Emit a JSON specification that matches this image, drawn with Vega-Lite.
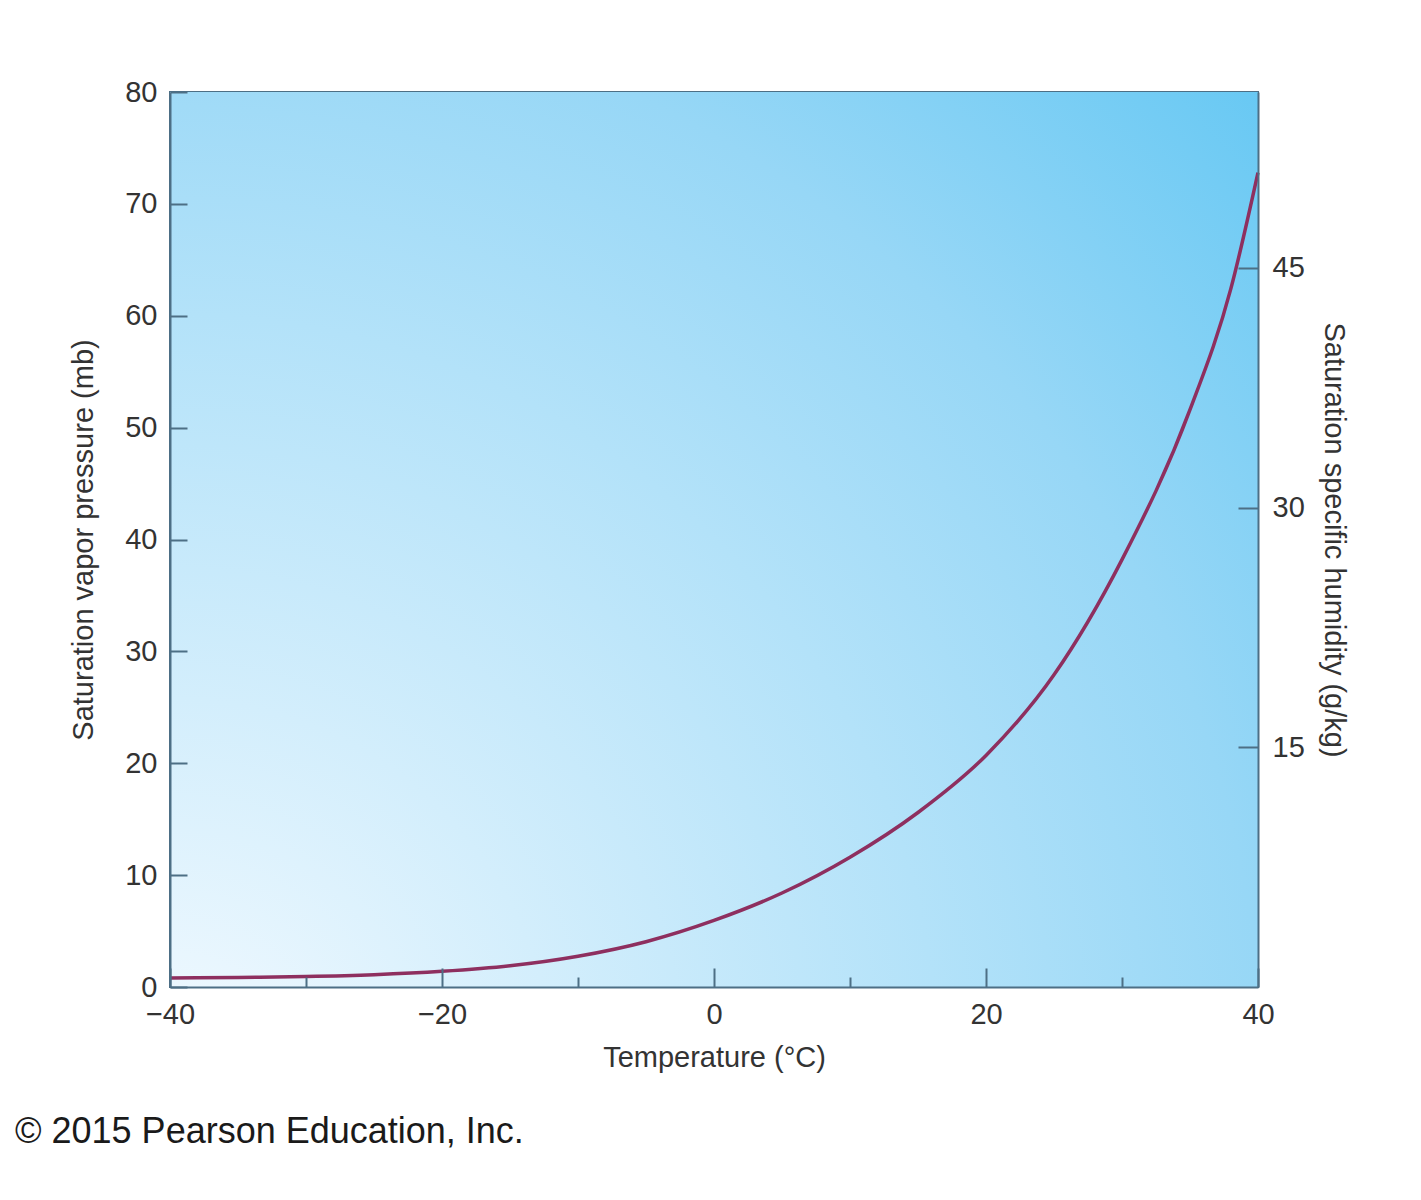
{
  "$schema": "https://vega.github.io/schema/vega-lite/v6.json",
  "width": 1088,
  "height": 895,
  "padding": {"left": 15, "top": 78, "right": 0, "bottom": 0},
  "background": "white",
  "title": {
    "text": "© 2015 Pearson Education, Inc.",
    "orient": "bottom",
    "anchor": "start",
    "frame": "group",
    "dx": -155,
    "offset": 43,
    "font": "Liberation Sans",
    "fontSize": 36,
    "fontWeight": "normal",
    "color": "#1a1a1a"
  },
  "data": {
    "values": [
      {"temp": -40, "svp": 0.8},
      {"temp": -35, "svp": 0.86},
      {"temp": -30, "svp": 0.94},
      {"temp": -25, "svp": 1.1},
      {"temp": -20, "svp": 1.4},
      {"temp": -15, "svp": 1.9},
      {"temp": -10, "svp": 2.75},
      {"temp": -5, "svp": 4.05},
      {"temp": 0, "svp": 5.95},
      {"temp": 5, "svp": 8.4},
      {"temp": 10, "svp": 11.6},
      {"temp": 15, "svp": 15.6},
      {"temp": 20, "svp": 20.7},
      {"temp": 25, "svp": 27.9},
      {"temp": 30, "svp": 38.2},
      {"temp": 35, "svp": 51.6},
      {"temp": 38, "svp": 62.4},
      {"temp": 40, "svp": 72.8}
    ]
  },
  "layer": [
    {
      "layer": [
        {
          "mark": {
            "type": "rect",
            "color": {
              "gradient": "radial",
              "x1": 0, "y1": 1, "r1": 0,
              "x2": 0, "y2": 1, "r2": 1.414,
              "stops": [
                {"offset": 0, "color": "#f3faff"},
                {"offset": 0.5, "color": "#b3e2f9"},
                {"offset": 0.71, "color": "#97d7f6"},
                {"offset": 1, "color": "#60c6f3"}
              ]
            }
          },
          "encoding": {
            "x": {
              "field": "temp",
              "aggregate": "min",
              "type": "quantitative",
              "scale": {"domain": [-40, 40], "nice": false, "zero": false},
              "axis": {
                "zindex": 1,
                "title": "Temperature (°C)",
                "values": [-40, -30, -20, -10, 0, 10, 20, 30, 40],
                "labelExpr": "datum.value % 20 === 0 ? datum.label : ''",
                "tickSize": {"condition": {"test": "datum.value % 20 === 0", "value": -19}, "value": -10},
                "labelPadding": 32,
                "titlePadding": 5
              }
            },
            "x2": {"field": "temp", "aggregate": "max"},
            "y": {
              "datum": 0,
              "type": "quantitative",
              "scale": {"domain": [0, 80], "nice": false},
              "axis": {
                "zindex": 1,
                "title": "Saturation vapor pressure (mb)",
                "values": [0, 10, 20, 30, 40, 50, 60, 70, 80],
                "tickSize": -17,
                "labelPadding": 30,
                "titlePadding": 26
              }
            },
            "y2": {"datum": 80}
          }
        },
        {
          "mark": {"type": "line", "color": "#8e2f5f", "strokeWidth": 3.5, "interpolate": "monotone"},
          "encoding": {
            "x": {"field": "temp", "type": "quantitative"},
            "y": {"field": "svp", "type": "quantitative"}
          }
        }
      ]
    },
    {
      "mark": {"type": "rule", "opacity": 0},
      "encoding": {
        "y": {
          "datum": 0,
          "type": "quantitative",
          "scale": {"domain": [0, 56], "nice": false},
          "axis": {
            "zindex": 1,
            "orient": "right",
            "title": "Saturation specific humidity (g/kg)",
            "titleAngle": 90,
            "values": [15, 30, 45],
            "tickSize": -20,
            "labelPadding": 34,
            "titlePadding": 14
          }
        }
      }
    }
  ],
  "resolve": {"scale": {"y": "independent"}},
  "config": {
    "view": {"stroke": "#4d6f85", "strokeWidth": 2},
    "axis": {
      "grid": false,
      "ticks": true,
      "labelFlush": false,
      "labelOverlap": false,
      "domainColor": "#4d6f85",
      "domainWidth": 2,
      "tickColor": "#4d6f85",
      "tickWidth": 2,
      "labelFont": "Liberation Sans",
      "labelFontSize": 29,
      "labelColor": "#333333",
      "titleFont": "Liberation Sans",
      "titleFontSize": 29,
      "titleFontWeight": "normal",
      "titleColor": "#333333"
    }
  }
}
